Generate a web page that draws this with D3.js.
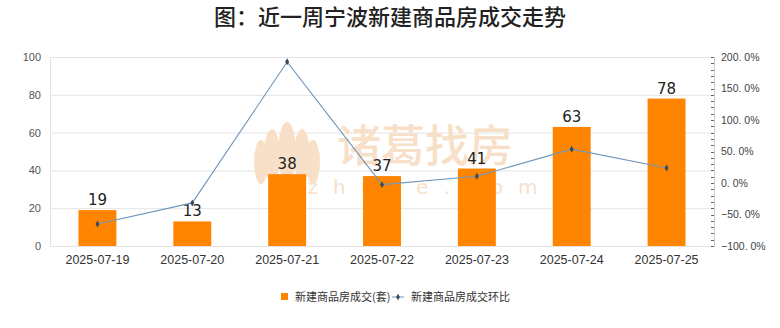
<!DOCTYPE html>
<html>
<head>
<meta charset="utf-8">
<script src="https://cdn.jsdelivr.net/npm/d3@7/dist/d3.min.js"></script>
<style>
  html, body { margin: 0; padding: 0; background: #fff; }
  svg { display: block; font-family: "Noto Sans CJK SC", "Noto Sans", sans-serif; }
</style>
</head>
<body>
<svg id="chart" width="780" height="328"></svg>
<script>
// Daily new-home transactions in Ningbo over the last week
const dates = ["2025-07-19", "2025-07-20", "2025-07-21", "2025-07-22", "2025-07-23", "2025-07-24", "2025-07-25"];
const deals = [19, 13, 38, 37, 41, 63, 78];
// day-over-day change, percent
const changePct = [-65.0, -31.6, 192.3, -2.6, 10.8, 53.7, 23.8];
const leftTicks = [0, 20, 40, 60, 80, 100];
const rightTicks = [-100, -50, 0, 50, 100, 150, 200];

const svg = d3.select("#chart");
const m = { left: 50, right: 714, top: 57, bottom: 246 };

const x = d3.scaleBand().domain(dates).range([m.left, m.right]).paddingInner(0.6).paddingOuter(0.3);
const yL = d3.scaleLinear().domain([0, 100]).range([m.bottom, m.top]);
const yR = d3.scaleLinear().domain([-100, 200]).range([m.bottom, m.top]);

// title
svg.append("text")
  .attr("x", 390).attr("y", 25)
  .attr("text-anchor", "middle")
  .attr("font-size", 22).attr("font-weight", 500)
  .attr("fill", "#222")
  .text("图：近一周宁波新建商品房成交走势");

// gridlines
svg.append("g").selectAll("line").data(leftTicks).join("line")
  .attr("x1", m.left).attr("x2", m.right)
  .attr("y1", d => yL(d) + 0.5).attr("y2", d => yL(d) + 0.5)
  .attr("stroke", "#e4e4e4").attr("stroke-width", 1);
svg.append("line")
  .attr("x1", m.left + 0.5).attr("x2", m.left + 0.5)
  .attr("y1", m.top).attr("y2", m.bottom)
  .attr("stroke", "#e4e4e4");

// watermark
const wm = svg.append("g").attr("fill", "#f8e0c8");
const petals = [[-26, 10, 7, 22], [-15, 4, 8, 27], [0, 0, 9, 30], [15, 4, 8, 27], [26, 10, 7, 22]];
wm.selectAll("ellipse").data(petals).join("ellipse")
  .attr("cx", d => 287 + d[0]).attr("cy", d => 152 + d[1])
  .attr("rx", d => d[2]).attr("ry", d => d[3]);
wm.append("text").attr("x", 425).attr("y", 162)
  .attr("text-anchor", "middle").attr("font-size", 44).attr("font-weight", 500)
  .text("诸葛找房");
wm.append("text").attr("x", 430).attr("y", 194)
  .attr("text-anchor", "middle").attr("font-size", 20)
  .attr("letter-spacing", 15)
  .attr("font-family", "DejaVu Sans, sans-serif")
  .text("zhuge.com");

// bars
svg.append("g").selectAll("rect").data(dates).join("rect")
  .attr("x", d => x(d)).attr("width", x.bandwidth())
  .attr("y", (d, i) => yL(deals[i])).attr("height", (d, i) => yL(0) - yL(deals[i]))
  .attr("fill", "#ff8500");

// bar value labels
svg.append("g").selectAll("text").data(dates).join("text")
  .attr("x", d => x(d) + x.bandwidth() / 2)
  .attr("y", (d, i) => yL(deals[i]) - 5)
  .attr("text-anchor", "middle").attr("font-size", 15)
  .attr("font-family", "DejaVu Sans, sans-serif")
  .attr("fill", "#222")
  .text((d, i) => deals[i]);

// change line
const cx = d => x(d) + x.bandwidth() / 2;
const line = d3.line().x((d, i) => cx(dates[i])).y(d => yR(d));
svg.append("path").datum(changePct)
  .attr("d", line).attr("fill", "none")
  .attr("stroke", "#6f97bb").attr("stroke-width", 1.1);
svg.append("g").selectAll("path").data(changePct).join("path")
  .attr("d", d3.symbol(d3.symbolDiamond, 14))
  .attr("transform", (d, i) => `translate(${cx(dates[i])},${yR(d)})`)
  .attr("fill", "#3a4a5a");

// left axis labels
const axL = svg.append("g").attr("transform", `translate(${m.left},0)`)
  .call(d3.axisLeft(yL).tickValues(leftTicks).tickSize(0).tickPadding(9));
axL.select(".domain").remove();
axL.selectAll("text").attr("font-size", 11).attr("fill", "#555")
  .attr("font-family", "Liberation Sans, Arial, sans-serif");

// right axis with minor ticks
const axR = svg.append("g").attr("transform", `translate(${m.right},0)`)
  .call(d3.axisRight(yR).tickValues(rightTicks).tickSize(0).tickPadding(7)
    .tickFormat(d => d3.format(".1f")(d).replace(".", ". ") + "%"));
axR.select(".domain").attr("stroke", "#ccc");
axR.selectAll("text").attr("font-size", 10.5).attr("fill", "#444")
  .attr("font-family", "Liberation Sans, Arial, sans-serif");
axR.append("g").selectAll("line").data(d3.range(-100, 201, 10)).join("line")
  .attr("x1", -3).attr("x2", 0)
  .attr("y1", d => Math.round(yR(d)) + 0.5).attr("y2", d => Math.round(yR(d)) + 0.5)
  .attr("stroke", "#666");

// x axis labels
const axX = svg.append("g").attr("transform", `translate(0,${m.bottom})`)
  .call(d3.axisBottom(x).tickSize(0).tickPadding(9));
axX.select(".domain").remove();
axX.selectAll("text").attr("font-size", 12.5).attr("fill", "#333")
  .attr("font-family", "Liberation Sans, Arial, sans-serif");

// legend
const lg = svg.append("g").attr("font-size", 11).attr("fill", "#333");
lg.append("rect").attr("x", 281).attr("y", 293).attr("width", 7).attr("height", 7).attr("fill", "#ff8500");
lg.append("text").attr("x", 295).attr("y", 301).text("新建商品房成交(套)");
lg.append("line").attr("x1", 392).attr("x2", 404).attr("y1", 297).attr("y2", 297)
  .attr("stroke", "#6f97bb");
lg.append("path").attr("d", d3.symbol(d3.symbolDiamond, 12))
  .attr("transform", "translate(398,297)").attr("fill", "#3a4a5a");
lg.append("text").attr("x", 411).attr("y", 301).text("新建商品房成交环比");
</script>
</body>
</html>
